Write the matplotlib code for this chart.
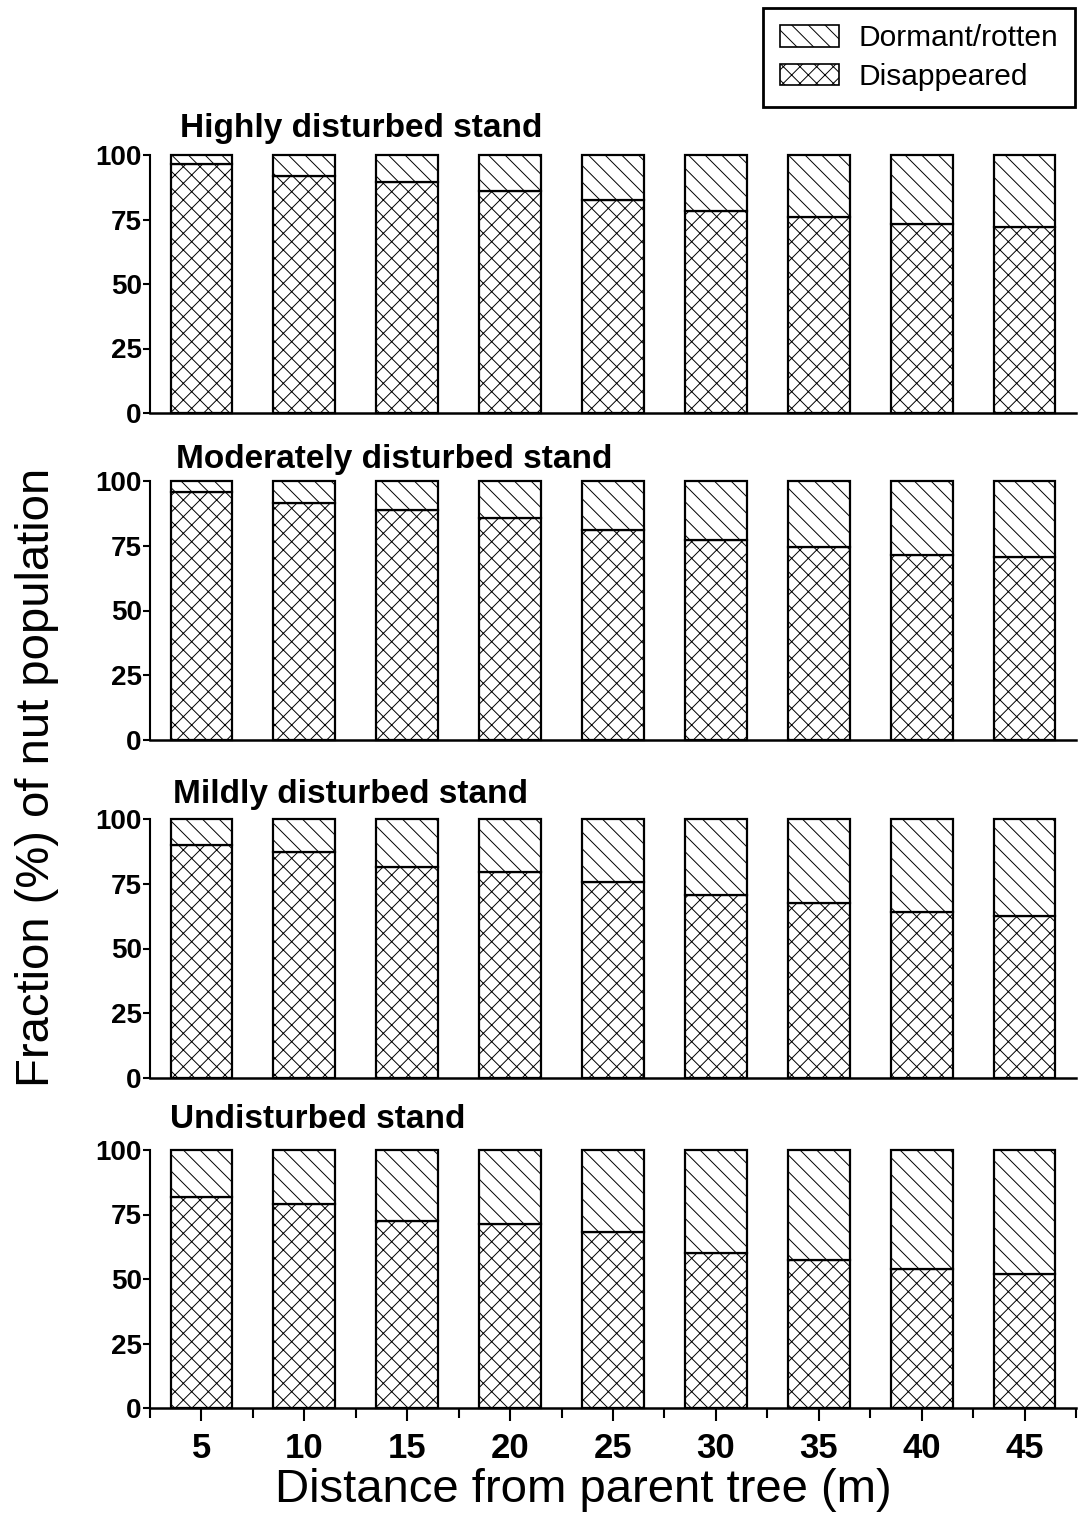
import matplotlib
matplotlib.use("Agg")
import matplotlib.pyplot as plt
from matplotlib.patches import Patch

plt.rcParams["font.family"] = ["Liberation Sans", "DejaVu Sans"]
plt.rcParams["hatch.linewidth"] = 0.7

W, H = 1080, 1517

distance = [5, 10, 15, 20, 25, 30, 35, 40, 45]
stands = ["Highly disturbed stand", "Moderately disturbed stand",
          "Mildly disturbed stand", "Undisturbed stand"]

# disappeared (%) per stand
disappeared_highly = [96.5, 91.8, 89.5, 86.2, 82.6, 78.4, 75.9, 73.2, 72.1]
disappeared_moderately = [95.6, 91.5, 88.8, 85.6, 80.9, 77.3, 74.4, 71.6, 70.5]
disappeared_mildly = [89.8, 87.4, 81.3, 79.4, 75.5, 70.7, 67.5, 63.9, 62.4]
disappeared_undisturbed = [81.8, 79.0, 72.5, 71.2, 68.2, 60.0, 57.5, 54.0, 51.9]

# dormant/rotten (%) stacked on top, bars reach 100
dormant_highly = [3.5, 8.2, 10.5, 13.8, 17.4, 21.6, 24.1, 26.8, 27.9]
dormant_moderately = [4.4, 8.5, 11.2, 14.4, 19.1, 22.7, 25.6, 28.4, 29.5]
dormant_mildly = [10.2, 12.6, 18.7, 20.6, 24.5, 29.3, 32.5, 36.1, 37.6]
dormant_undisturbed = [18.2, 21.0, 27.5, 28.8, 31.8, 40.0, 42.5, 46.0, 48.1]

disappeared = [disappeared_highly, disappeared_moderately,
               disappeared_mildly, disappeared_undisturbed]
dormant = [dormant_highly, dormant_moderately, dormant_mildly, dormant_undisturbed]

HATCH_GONE = "xx"
HATCH_DORM = "\\\\"

# panel geometry in pixels (top of 100, bottom at 0)
tops = [155, 481, 819, 1150]
bottoms = [413, 740, 1078, 1408]
title_pos = [(180, 137), (176, 468), (173, 803), (170, 1128)]
x_left, x_right = 150, 1076

fig = plt.figure(figsize=(W / 100, H / 100), dpi=100)

for i in range(4):
    ax = fig.add_axes([x_left / W, 1 - bottoms[i] / H,
                       (x_right - x_left) / W, (bottoms[i] - tops[i]) / H])
    ax.bar(distance, disappeared[i], width=3.0, color="white", edgecolor="black",
           hatch=HATCH_GONE, lw=1.6, clip_on=False)
    ax.bar(distance, dormant[i], bottom=disappeared[i], width=3.0, color="white",
           edgecolor="black", hatch=HATCH_DORM, lw=1.6, clip_on=False)
    ax.set_xlim(2.5, 47.5)
    ax.set_ylim(0, 100)
    ax.set_yticks([0, 25, 50, 75, 100])
    for s in ("top", "right"):
        ax.spines[s].set_visible(False)
    ax.spines["left"].set_linewidth(1.5)
    ax.spines["bottom"].set_linewidth(1.8)
    ax.tick_params(axis="y", direction="out", length=5, width=1.5, pad=1,
                   labelsize=20)
    for lab in ax.get_yticklabels():
        lab.set_fontweight("bold")
    if i < 3:
        ax.tick_params(axis="x", bottom=False, labelbottom=False)
    else:
        ax.set_xticks(distance)
        ax.set_xticks([2.5 + 5 * k for k in range(10)], minor=True)
        ax.tick_params(axis="x", which="major", direction="out", length=9,
                       width=1.5, pad=8, labelsize=25)
        ax.tick_params(axis="x", which="minor", direction="out", length=7,
                       width=1.5)
        for lab in ax.get_xticklabels():
            lab.set_fontweight("bold")
    tx, ty = title_pos[i]
    fig.text(tx / W, 1 - ty / H, stands[i], fontsize=24, fontweight="bold",
             ha="left", va="baseline")

fig.text(37 / W, 1 - 777 / H, "Fraction (%) of nut population", rotation=90,
         fontsize=34, ha="center", va="center")
fig.text(583 / W, 1 - 1490 / H, "Distance from parent tree (m)",
         fontsize=34, ha="center", va="center")

handles = [Patch(facecolor="white", edgecolor="black", hatch=HATCH_DORM, lw=1.2,
                 label="Dormant/rotten"),
           Patch(facecolor="white", edgecolor="black", hatch=HATCH_GONE, lw=1.2,
                 label="Disappeared")]
leg = fig.legend(handles=handles, loc="upper right",
                 bbox_to_anchor=(1075 / W, 1 - 8 / H), frameon=True,
                 fancybox=False, edgecolor="black", framealpha=1, fontsize=21.5,
                 handlelength=2.0, handleheight=0.75, borderpad=0.55,
                 labelspacing=0.35, handletextpad=0.65, borderaxespad=0)
leg.get_frame().set_linewidth(2)

fig.savefig("out.png", dpi=100)
